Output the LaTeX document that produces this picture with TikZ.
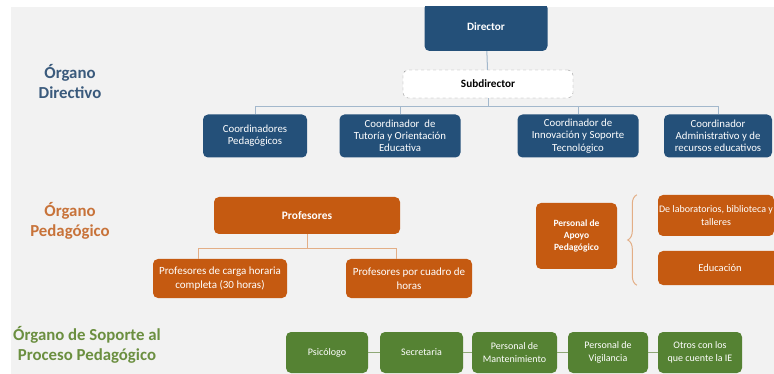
\documentclass[tikz,border=0pt]{standalone}
\usepackage{fontspec}
\setmainfont{Carlito}
\usetikzlibrary{calc,decorations.pathreplacing}
\definecolor{bgc}{HTML}{F2F2F2}
\definecolor{bluebox}{HTML}{245079}
\definecolor{bluelab}{HTML}{3A5A7C}
\definecolor{blueline}{HTML}{A3B8CC}
\definecolor{orbox}{HTML}{C55A11}
\definecolor{orlab}{HTML}{C8733A}
\definecolor{orline}{HTML}{E3AE86}
\definecolor{grbox}{HTML}{558233}
\definecolor{grlab}{HTML}{6B8F40}
\definecolor{grline}{HTML}{8FA877}
\tikzset{
  box/.style={rounded corners=5pt, text=white, align=center, inner sep=1pt,
    font=\fontsize{10.8}{12.2}\selectfont},
  bbox/.style={box, fill=bluebox},
  obox/.style={box, fill=orbox, font=\fontsize{11}{14}\selectfont},
  gbox/.style={box, fill=grbox, font=\fontsize{10}{12.5}\selectfont, minimum height=41pt},
  bline/.style={draw=blueline, line width=1pt},
  oline/.style={draw=orline, line width=1pt},
  gline/.style={draw=grline, line width=1pt},
  sect/.style={font=\fontsize{16.8}{20}\selectfont\bfseries, align=center}
}
\begin{document}
\begin{tikzpicture}[x=1pt,y=-1pt]
\useasboundingbox (0,0) rectangle (774,374);
\fill[white] (0,0) rectangle (774,374);
\fill[bgc] (11,7) rectangle (774,374);
\begin{scope}
\clip (11,7) rectangle (774,374);
% section labels
\node[sect, text=bluelab] (l1) at (70,82) {Órgano\\Directivo};
\node[sect, text=orlab] (l2) at (70,221) {Órgano\\Pedagógico};
\node[sect, text=grlab] (l3) at (87,345) {Órgano de Soporte al\\Proceso Pedagógico};
% directive
\node[bbox, minimum width=123pt, minimum height=48pt, font=\fontsize{11.2}{13}\selectfont\bfseries] (dir) at (486,27) {Director};
\node[box, fill=white, draw=gray!80, dashed, text=black, minimum width=170pt, minimum height=28pt, font=\fontsize{11.2}{13}\selectfont\bfseries] (sub) at (488,84) {Subdirector};
\node[bbox, minimum width=104pt, minimum height=43pt] (c1) at (255,136) {Coordinadores\\Pedagógicos};
\node[bbox, minimum width=121pt, minimum height=43pt] (c2) at (400,136) {Coordinador\ \ de\\Tutoría y Orientación\\Educativa};
\node[bbox, minimum width=121pt, minimum height=43pt] (c3) at (578,136) {Coordinador de\\Innovación y Soporte\\Tecnológico};
\node[bbox, minimum width=108pt, minimum height=43pt] (c4) at (718,136) {Coordinador\\Administrativo y de\\recursos educativos};
\draw[bline] (dir) -- (sub);
\foreach \c in {c1,c2,c3,c4}{
  \draw[bline] (sub.south) |- ($(\c.north)+(0,-7.5)$) -- (\c.north);
}
% pedagogic
\node[obox, minimum width=186pt, minimum height=37pt, font=\fontsize{11.4}{13}\selectfont\bfseries] (prof) at (307,215.5) {Profesores};
\node[obox, minimum width=134pt, minimum height=39pt] (pc) at (220,278.5) {Profesores de carga horaria\\completa (30 horas)};
\node[obox, minimum width=126pt, minimum height=39pt] (pq) at (409,278.5) {Profesores por cuadro de\\horas};
\draw[oline] (prof.south) |- ($(pc.north)+(-22,-10.5)$) -- ($(pc.north)+(-22,0)$);
\draw[oline] (prof.south) |- ($(pq.north)+(-13,-10.5)$) -- ($(pq.north)+(-13,0)$);
\node[obox, minimum width=81pt, minimum height=66pt, font=\fontsize{9.5}{12}\selectfont\bfseries] (apoyo) at (576.5,236) {Personal de\\Apoyo\\Pedagógico};
\node[obox, minimum width=116pt, minimum height=41pt, font=\fontsize{10}{13}\selectfont] (lab) at (716,215.5) {De laboratorios, biblioteca y\\talleres};
\node[obox, minimum width=124pt, minimum height=34pt, font=\fontsize{10.5}{13}\selectfont] (edu) at (720,268) {Educación};
\coordinate (bt) at ($(edu.north west)+(-21,-56)$);
\coordinate (bb) at ($(edu.south west)+(-21,0)$);
\draw[oline, decorate, decoration={brace, amplitude=9pt, aspect=0.5}] (bb) -- (bt);
% support
\node[gbox, minimum width=82pt] (g1) at (327,352.5) {Psicólogo};
\node[gbox, minimum width=83pt] (g2) at (421.5,352.5) {Secretaria};
\node[gbox, minimum width=85pt] (g3) at (514.5,352.5) {Personal de\\Mantenimiento};
\node[gbox, minimum width=80pt] (g4) at (608,352.5) {Personal de\\Vigilancia};
\node[gbox, minimum width=84pt] (g5) at (700,352.5) {Otros con los\\que cuente la IE};
\draw[gline] (g1) -- (g2);
\draw[gline] (g2) -- (g3);
\draw[gline] (g3) -- (g4);
\draw[gline] (g4) -- (g5);
\end{scope}
\end{tikzpicture}
\end{document}
